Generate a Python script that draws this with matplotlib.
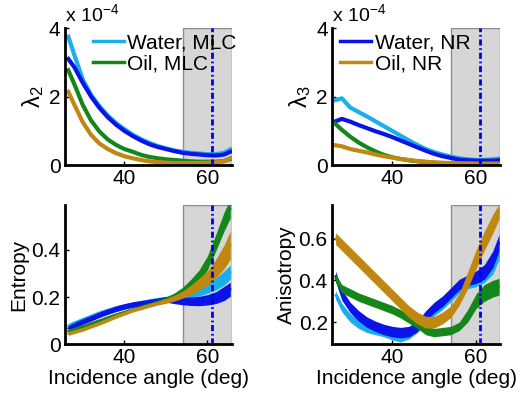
import numpy as np
import matplotlib
matplotlib.use("Agg")
import matplotlib.pyplot as plt
from matplotlib.patches import Rectangle

plt.rcParams['font.family'] = ['Liberation Sans', 'DejaVu Sans']
plt.rcParams['mathtext.fontset'] = 'custom'
plt.rcParams['mathtext.rm'] = 'Liberation Sans'
plt.rcParams['mathtext.it'] = 'Liberation Sans:italic'

# incidence angle grid (deg)
angle = [26.5, 28, 30, 32, 34, 36, 38, 40, 42, 44, 46, 48, 50, 52, 54, 56, 58, 60, 62, 64, 65.5]

# lambda_2, units of 1e-4
lam2_water_mlc = [3.75, 3.2, 2.5, 2.05, 1.72, 1.45, 1.23, 1.05, 0.89, 0.76, 0.65, 0.56, 0.49, 0.43, 0.39, 0.36, 0.34, 0.32, 0.32, 0.36, 0.46]
lam2_water_nr = [3.1, 2.85, 2.4, 2.0, 1.67, 1.4, 1.18, 1.0, 0.85, 0.72, 0.61, 0.53, 0.47, 0.41, 0.36, 0.33, 0.31, 0.29, 0.28, 0.31, 0.39]
lam2_oil_mlc = [2.77, 2.35, 1.75, 1.3, 0.98, 0.75, 0.59, 0.47, 0.39, 0.3, 0.24, 0.2, 0.17, 0.15, 0.13, 0.11, 0.1, 0.1, 0.1, 0.12, 0.18]
lam2_oil_nr = [2.14, 1.75, 1.25, 0.88, 0.63, 0.47, 0.35, 0.26, 0.2, 0.15, 0.11, 0.09, 0.07, 0.06, 0.06, 0.06, 0.06, 0.07, 0.08, 0.12, 0.2]

# lambda_3, units of 1e-4
lam3_water_mlc = [1.9, 1.95, 1.68, 1.55, 1.42, 1.28, 1.14, 1.0, 0.86, 0.72, 0.59, 0.47, 0.38, 0.31, 0.25, 0.2, 0.17, 0.15, 0.15, 0.17, 0.19]
lam3_water_nr = [1.28, 1.35, 1.27, 1.17, 1.08, 0.99, 0.91, 0.82, 0.72, 0.62, 0.52, 0.42, 0.33, 0.26, 0.21, 0.16, 0.14, 0.13, 0.13, 0.13, 0.14]
lam3_oil_mlc = [1.2, 1.03, 0.83, 0.66, 0.52, 0.4, 0.3, 0.23, 0.18, 0.14, 0.11, 0.09, 0.07, 0.06, 0.05, 0.05, 0.05, 0.05, 0.05, 0.05, 0.05]
lam3_oil_nr = [0.58, 0.55, 0.47, 0.42, 0.37, 0.31, 0.26, 0.22, 0.18, 0.15, 0.12, 0.1, 0.08, 0.07, 0.06, 0.05, 0.05, 0.04, 0.04, 0.04, 0.04]

# entropy (value, noise half-width)
ent_water_mlc = [0.078, 0.09, 0.104, 0.118, 0.132, 0.143, 0.154, 0.161, 0.168, 0.176, 0.183, 0.188, 0.193, 0.2, 0.207, 0.215, 0.225, 0.238, 0.255, 0.28, 0.305]
ent_water_mlc_sd = [0.01, 0.01, 0.01, 0.01, 0.01, 0.01, 0.01, 0.01, 0.01, 0.01, 0.01, 0.01, 0.01, 0.012, 0.015, 0.018, 0.02, 0.022, 0.025, 0.03, 0.03]
ent_water_nr = [0.067, 0.08, 0.096, 0.11, 0.125, 0.138, 0.15, 0.16, 0.168, 0.173, 0.178, 0.184, 0.19, 0.186, 0.183, 0.182, 0.183, 0.188, 0.197, 0.215, 0.233]
ent_water_nr_sd = [0.012, 0.012, 0.012, 0.012, 0.012, 0.012, 0.012, 0.012, 0.012, 0.012, 0.012, 0.012, 0.012, 0.014, 0.016, 0.018, 0.02, 0.022, 0.025, 0.03, 0.03]
ent_oil_mlc = [0.055, 0.064, 0.075, 0.088, 0.1, 0.113, 0.125, 0.136, 0.147, 0.158, 0.168, 0.179, 0.19, 0.205, 0.226, 0.255, 0.29, 0.345, 0.43, 0.52, 0.575]
ent_oil_mlc_sd = [0.008, 0.008, 0.008, 0.008, 0.008, 0.008, 0.008, 0.008, 0.008, 0.008, 0.008, 0.008, 0.01, 0.012, 0.015, 0.02, 0.025, 0.03, 0.035, 0.04, 0.04]
ent_oil_nr = [0.045, 0.053, 0.063, 0.076, 0.089, 0.103, 0.118, 0.131, 0.144, 0.154, 0.164, 0.174, 0.183, 0.195, 0.21, 0.23, 0.255, 0.28, 0.32, 0.37, 0.42]
ent_oil_nr_sd = [0.008, 0.008, 0.008, 0.008, 0.008, 0.008, 0.008, 0.008, 0.008, 0.008, 0.008, 0.008, 0.01, 0.012, 0.015, 0.02, 0.025, 0.03, 0.04, 0.05, 0.06]

# anisotropy (value, noise half-width)
ani_water_mlc = [0.33, 0.27, 0.22, 0.19, 0.17, 0.16, 0.15, 0.135, 0.125, 0.14, 0.17, 0.21, 0.25, 0.28, 0.32, 0.36, 0.38, 0.39, 0.41, 0.45, 0.52]
ani_water_mlc_sd = [0.02] * 21
ani_water_nr = [0.42, 0.33, 0.27, 0.23, 0.2, 0.18, 0.165, 0.155, 0.15, 0.155, 0.18, 0.23, 0.27, 0.3, 0.34, 0.38, 0.4, 0.415, 0.44, 0.5, 0.58]
ani_water_nr_sd = [0.025] * 17 + [0.03, 0.035, 0.04, 0.04]
ani_oil_mlc = [0.41, 0.36, 0.34, 0.32, 0.305, 0.29, 0.275, 0.26, 0.24, 0.215, 0.19, 0.16, 0.15, 0.155, 0.16, 0.18, 0.23, 0.3, 0.34, 0.36, 0.37]
ani_oil_mlc_sd = [0.02] * 16 + [0.03, 0.035, 0.04, 0.04, 0.04]
ani_oil_nr = [0.6, 0.57, 0.53, 0.49, 0.45, 0.41, 0.37, 0.33, 0.29, 0.25, 0.22, 0.2, 0.2, 0.22, 0.25, 0.31, 0.4, 0.5, 0.59, 0.67, 0.73]
ani_oil_nr_sd = [0.028] * 16 + [0.04, 0.045, 0.045, 0.045, 0.035]

c_water_mlc = '#1aaeea'
c_water_nr = '#0a14e6'
c_oil_mlc = '#15871a'
c_oil_nr = '#c08812'

shade_start = 54
angle_cut = 61
xlims = (25.6, 65.8)

fig = plt.figure(figsize=(5.25, 3.96), dpi=100)
ax1 = fig.add_axes([0.123, 0.583, 0.318, 0.346])
ax2 = fig.add_axes([0.632, 0.583, 0.321, 0.346])
ax3 = fig.add_axes([0.123, 0.131, 0.318, 0.351])
ax4 = fig.add_axes([0.632, 0.131, 0.321, 0.351])


def style(ax, ylim, yticks, ylabel, size=15):
    ax.set_xlim(*xlims)
    ax.set_ylim(*ylim)
    ax.add_patch(Rectangle((shade_start, ylim[0]), xlims[1] - shade_start, ylim[1] - ylim[0],
                           facecolor='#d6d6d6', edgecolor='#8c8c8c', lw=1, zorder=0))
    ax.axvline(angle_cut, color='#0000e6', lw=2, zorder=5, dashes=(2.2, 1, 0.6, 1))
    ax.set_xticks([40, 60])
    ax.set_yticks(yticks)
    ax.set_yticklabels([f'{t:g}' for t in yticks])
    ax.spines['top'].set_visible(False)
    ax.spines['right'].set_visible(False)
    ax.spines['left'].set_linewidth(2)
    ax.spines['bottom'].set_linewidth(2)
    ax.tick_params(direction='in', length=3, width=1, labelsize=15, pad=3)
    ax.set_ylabel(ylabel, fontsize=size, labelpad=2)


x = np.array(angle)

for ax, series in [(ax1, [lam2_water_mlc, lam2_water_nr, lam2_oil_mlc, lam2_oil_nr]),
                   (ax2, [lam3_water_mlc, lam3_water_nr, lam3_oil_mlc, lam3_oil_nr])]:
    for ys, c in zip(series, [c_water_mlc, c_water_nr, c_oil_mlc, c_oil_nr]):
        ax.plot(x, ys, color=c, lw=3, zorder=2)

for ax, series in [(ax3, [(ent_water_mlc, ent_water_mlc_sd), (ent_water_nr, ent_water_nr_sd),
                          (ent_oil_mlc, ent_oil_mlc_sd), (ent_oil_nr, ent_oil_nr_sd)]),
                   (ax4, [(ani_water_mlc, ani_water_mlc_sd), (ani_water_nr, ani_water_nr_sd),
                          (ani_oil_mlc, ani_oil_mlc_sd), (ani_oil_nr, ani_oil_nr_sd)])]:
    for (ys, sd), c in zip(series, [c_water_mlc, c_water_nr, c_oil_mlc, c_oil_nr]):
        ys = np.array(ys)
        sd = np.array(sd)
        ax.fill_between(x, ys - sd, ys + sd, color=c, lw=0, zorder=2)
        ax.plot(x, ys, color=c, lw=1.5, zorder=2)

style(ax1, (0, 4), [0, 2, 4], 'λ$_2$', 17)
style(ax2, (0, 4), [0, 2, 4], 'λ$_3$', 17)
style(ax3, (0, 0.59), [0, 0.2, 0.4], 'Entropy')
style(ax4, (0.095, 0.76), [0.2, 0.4, 0.6], 'Anisotropy')

for ax in (ax3, ax4):
    ax.set_xlabel('Incidence angle (deg)', fontsize=15, labelpad=1)

for ax in (ax1, ax2):
    ax.text(0.0, 1.02, r'x 10$^{-4}$', transform=ax.transAxes, fontsize=14, va='bottom', ha='left')

h1 = [plt.Line2D([], [], color=c_water_mlc, lw=2.5), plt.Line2D([], [], color=c_oil_mlc, lw=2.5)]
ax1.legend(h1, ['Water, MLC', 'Oil, MLC'], loc='upper left', bbox_to_anchor=(0.17, 0.96),
           frameon=False, fontsize=15, handlelength=1.5, handletextpad=0.15,
           labelspacing=0.1, borderpad=0, borderaxespad=0)
h2 = [plt.Line2D([], [], color=c_water_nr, lw=2.5), plt.Line2D([], [], color=c_oil_nr, lw=2.5)]
ax2.legend(h2, ['Water, NR', 'Oil, NR'], loc='upper left', bbox_to_anchor=(0.05, 0.96),
           frameon=False, fontsize=15, handlelength=1.5, handletextpad=0.15,
           labelspacing=0.1, borderpad=0, borderaxespad=0)

fig.savefig('out.png', dpi=100)
